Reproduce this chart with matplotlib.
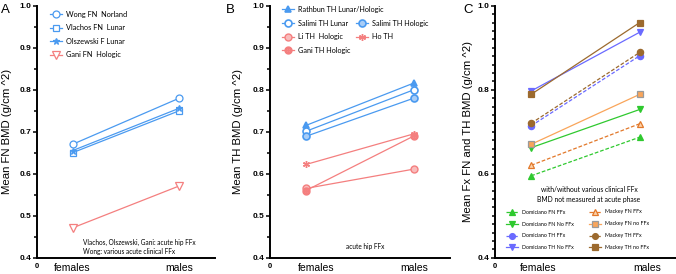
import matplotlib.pyplot as plt
from matplotlib.lines import Line2D
from matplotlib.ticker import MultipleLocator

plt.rcParams['font.family'] = ['Liberation Sans', 'DejaVu Sans']

W, H = 676, 274

sexes = ['females', 'males']
xpos = [1, 4]

# A: femoral neck BMD
fn_wong = [0.670, 0.780]
fn_vlachos = [0.650, 0.750]
fn_olszewski = [0.655, 0.756]
fn_gani = [0.471, 0.571]

# B: total hip BMD
th_rathbun = [0.715, 0.816]
th_salimi_lunar = [0.701, 0.800]
th_salimi_hologic = [0.689, 0.780]
th_li = [0.565, 0.611]
th_ho = [0.622, 0.695]
th_gani = [0.560, 0.690]

# C: with / without fracture
dom_fn_ffx = [0.595, 0.687]
dom_fn_noffx = [0.662, 0.753]
dom_th_ffx = [0.714, 0.881]
dom_th_noffx = [0.797, 0.937]
mac_fn_ffx = [0.620, 0.719]
mac_fn_noffx = [0.670, 0.789]
mac_th_ffx = [0.720, 0.889]
mac_th_noffx = [0.789, 0.960]

blue = '#4a9af0'
red = '#f47f7f'
green = '#2fc92f'
violet = '#6a6aff'
brown = '#9c6a2e'
orange = '#f9a55a'
dorange = '#e2782a'

fig = plt.figure(figsize=(W / 100, H / 100), dpi=100)


def make_ax(left, right, ylab, lab_off, xt, major, minor, letter, lx):
    top, bottom = 5.7, 257.7
    ax = fig.add_axes([left / W, 1 - bottom / H, (right - left) / W, (bottom - top) / H])
    ax.set_xlim(0, 5)
    ax.set_ylim(0.4, 1.0)
    for s in ['top', 'right']:
        ax.spines[s].set_visible(False)
    for s in ['left', 'bottom']:
        ax.spines[s].set_linewidth(1.4)
    ax.yaxis.set_major_locator(MultipleLocator(major))
    ax.yaxis.set_minor_locator(MultipleLocator(minor))
    ax.yaxis.set_major_formatter(plt.FormatStrFormatter('%.1f'))
    ax.tick_params(axis='y', which='major', length=3, width=1.1, labelsize=6, pad=1)
    ax.tick_params(axis='y', which='minor', length=2, width=1.1)
    for t in ax.get_yticklabels():
        t.set_fontweight('bold')
    ax.set_xticks([0] + xt)
    ax.set_xticklabels(['0'] + sexes)
    ax.tick_params(axis='x', length=0, labelsize=7.5, pad=4)
    lbls = ax.get_xticklabels()
    lbls[0].set_fontsize(5.5)
    lbls[0].set_fontweight('bold')
    ax.set_ylabel(ylab, fontsize=8.2)
    ax.yaxis.set_label_coords(lab_off / (right - left), 0.5)
    fig.text(lx / W, 1 - 10 / H, letter, fontsize=9.5, va='center')
    return ax


def key(x, y, label, size, **kw):
    fx, fy = x / W, 1 - y / H
    d = 6 / W
    fig.add_artist(Line2D([fx - d, fx, fx + d], [fy, fy, fy], markevery=[1],
                          transform=fig.transFigure, **kw))
    fig.text((x + 10) / W, fy, label, fontsize=size, va='center', family='Lato')


# ---------------- A
axA = make_ax(37, 215, 'Mean FN BMD (g/cm ^2)', -25, [1, 4], 0.1, 0.05, 'A', 1)
sA = dict(color=blue, lw=0.9, ms=5, mew=0.9)
axA.plot(xpos, fn_wong, marker='o', mfc='white', **sA)
axA.plot(xpos, fn_vlachos, marker='s', mfc='white', **sA)
axA.plot(xpos, fn_olszewski, marker='*', **sA)
axA.plot(xpos, fn_gani, marker='v', mfc='white', color=red, lw=0.9, ms=5.5, mew=0.9)

key(56, 14.3, 'Wong FN  Norland', 5.3, marker='o', mfc='white', **sA)
key(56, 27.7, 'Vlachos FN  Lunar', 5.3, marker='s', mfc='white', **sA)
key(56, 41.3, 'Olszewski F Lunar', 5.3, marker='*', **sA)
key(56, 55, 'Gani FN  Hologic', 5.3, marker='v', mfc='white', color=red, lw=0.9, ms=5.5, mew=0.9)

fig.text(83 / W, 1 - 242.3 / H, 'Vlachos, Olszewski, Gani: acute hip FFx', fontsize=4.7,
         va='center', family='Lato')
fig.text(83 / W, 1 - 251.7 / H, 'Wong: various acute clinical FFx', fontsize=4.7,
         va='center', family='Lato')

# ---------------- B
axB = make_ax(270, 450, 'Mean TH BMD (g/cm ^2)', -27, [1.28, 4.0], 0.1, 0.05, 'B', 226)
sB = dict(color=blue, lw=0.9, ms=5, mew=1.2)
sR = dict(color=red, lw=0.9, ms=5, mew=1.0)
axB.plot(xpos, th_rathbun, marker='^', **sB)
axB.plot(xpos, th_salimi_lunar, marker='o', mfc='white', **sB)
axB.plot(xpos, th_salimi_hologic, marker='o', mfc='#a8cdf7', **sB)
axB.plot(xpos, th_li, marker='o', mfc='#f9bcbc', **sR)
axB.plot(xpos, th_ho, marker=(6, 2, 0), **sR)
axB.plot(xpos, th_gani, marker='$\\oplus$', **sR)

key(288, 9.3, 'Rathbun TH Lunar/Hologic', 5.2, marker='^', **sB)
key(288, 23.3, 'Salimi TH Lunar', 5.2, marker='o', mfc='white', **sB)
key(362, 23.3, 'Salimi TH Hologic', 5.2, marker='o', mfc='#a8cdf7', **sB)
key(288, 36.5, 'Li TH  Hologic', 5.2, marker='o', mfc='#f9bcbc', **sR)
key(362, 36.5, 'Ho TH', 5.2, marker=(6, 2, 0), **sR)
key(288, 50, 'Gani TH Hologic', 5.2, marker='$\\oplus$', **sR)

fig.text(365 / W, 1 - 246.7 / H, 'acute hip FFx', fontsize=4.7, ha='center', va='center',
         family='Lato')

# ---------------- C
axC = make_ax(495, 676, 'Mean Fx FN and TH BMD (g/cm ^2)', -22, [1.19, 4.2], 0.2, 0.02, 'C', 463)
styles = [
    (dom_fn_ffx, 'Domiciano FN FFx', dict(color=green, ls='--', marker='^')),
    (dom_fn_noffx, 'Domiciano FN No FFx', dict(color=green, ls='-', marker='v')),
    (dom_th_ffx, 'Domiciano TH FFx', dict(color=violet, ls='--', marker='o')),
    (dom_th_noffx, 'Domiciano TH No FFx', dict(color=violet, ls='-', marker='v')),
    (mac_fn_ffx, 'Mackey FN FFx', dict(color=dorange, ls='--', marker='^', mfc='#fcd2a8')),
    (mac_fn_noffx, 'Mackey FN no FFx', dict(color=orange, ls='-', marker='s', mec='#9a9a9a')),
    (mac_th_ffx, 'Mackey TH FFx', dict(color=brown, ls='--', marker='o')),
    (mac_th_noffx, 'Mackey TH no FFx', dict(color=brown, ls='-', marker='s')),
]
rows = [212, 224, 235.5, 247.3]
for i, (vals, lab, st) in enumerate(styles):
    axC.plot(xpos, vals, lw=0.9, ms=4.5, mew=0.9, dashes=(3, 1.5) if st['ls'] == '--' else (None, None), **st)
    cx = 511.7 if i < 4 else 595.3
    key(cx, rows[i % 4], lab, 3.8, lw=0.9, ms=4.2, mew=0.9, **st)

fig.text(589 / W, 1 - 189.3 / H, 'with/without various clinical FFx', fontsize=4.9,
         ha='center', va='center', family='Lato')
fig.text(589 / W, 1 - 199.3 / H, 'BMD not measured at acute phase', fontsize=4.9,
         ha='center', va='center', family='Lato')

fig.savefig('out.png', dpi=100)
